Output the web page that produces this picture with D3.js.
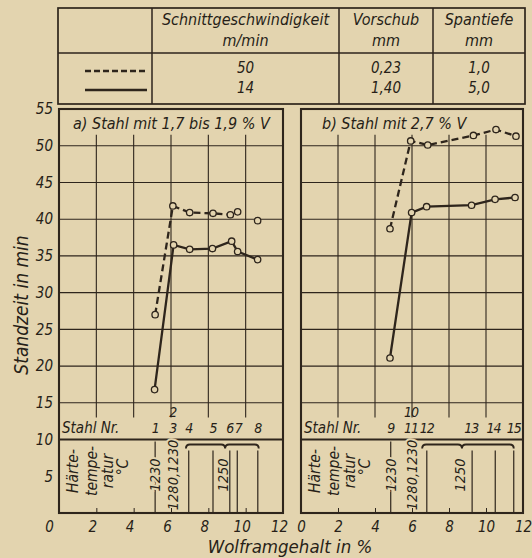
<!DOCTYPE html>
<html>
<head>
<meta charset="utf-8">
<script src="https://cdn.jsdelivr.net/npm/d3@7"></script>
<style>
body { margin: 0; background: #e3d4af; }
svg { display: block; }
text {
    font-family: "DejaVu Sans Condensed", "DejaVu Sans", sans-serif;
    font-stretch: condensed;
    font-style: oblique;
    fill: #271f18;
}
</style>
</head>
<body>
<svg width="532" height="558"></svg>
<script>
// table
const tableHeads = [["Schnittgeschwindigkeit", "m/min"], ["Vorschub", "mm"], ["Spantiefe", "mm"]];
const speedValues = ["50", "14"];
const feedValues = ["0,23", "1,40"];
const depthValues = ["1,0", "5,0"];

// axes
const yTicks = [5, 10, 15, 20, 25, 30, 35, 40, 45, 50, 55];
const xTicks = [0, 2, 4, 6, 8, 10, 12];
const gridY = [15, 20, 25, 30, 35, 40, 45, 50];
const gridX = [2, 4, 6, 8, 10];

// a) Stahl mit 1,7 bis 1,9 % V
const aDashed = [[5.15, 27.0], [6.1, 41.8], [7.0, 40.9], [8.25, 40.8], [9.18, 40.6], [9.57, 41.0]];
const aDashedLoose = [[10.64, 39.8]];
const aSolid = [[5.12, 16.8], [6.14, 36.5], [7.0, 35.9], [8.22, 36.0], [9.25, 37.0], [9.57, 35.6], [10.64, 34.5]];
const aSteels = [["1", 5.15], ["3", 6.1], ["4", 6.95], ["5", 8.25], ["6", 9.15], ["7", 9.6], ["8", 10.65]];
const aSteelsUpper = [["2", 6.1]];
const aTemps = [["1230", 5.15], ["1280,1230", 6.1]];
const aGroup = { from: 6.8, to: 10.7, mid: 8.9, label: "1250", labelAt: 8.8, lines: [6.95, 8.25, 9.15, 9.55, 10.65] };

// b) Stahl mit 2,7 % V
const bDashed = [[4.81, 38.7], [5.93, 50.65], [6.85, 50.1], [9.32, 51.4], [10.54, 52.2], [11.62, 51.3]];
const bDashedLoose = [];
const bSolid = [[4.81, 21.1], [5.98, 40.9], [6.79, 41.7], [9.22, 41.9], [10.49, 42.7], [11.57, 42.95]];
const bSteels = [["9", 4.85], ["11", 5.95], ["12", 6.8], ["13", 9.2], ["14", 10.4], ["15", 11.5]];
const bSteelsUpper = [["10", 5.95]];
const bTemps = [["1230", 4.85], ["1280,1230", 6.0]];
const bGroup = { from: 6.55, to: 11.5, mid: 8.7, label: "1250", labelAt: 8.6, lines: [6.8, 9.25, 10.5, 11.5] };

const ink = "#2e251c";
const bg = "#e3d4af";

const y = d3.scaleLinear([0, 55], [513, 109]);

const panels = [
    { title: "a) Stahl mit 1,7 bis 1,9 % V", titleX: 73, x: d3.scaleLinear([0, 12], [59, 283]),
      dashed: aDashed, loose: aDashedLoose, solid: aSolid, steels: aSteels, upper: aSteelsUpper,
      temps: aTemps, group: aGroup, yLabels: true, labelShift: -4 },
    { title: "b) Stahl mit 2,7 % V", titleX: 322, x: d3.scaleLinear([0, 12], [301, 523]),
      dashed: bDashed, loose: bDashedLoose, solid: bSolid, steels: bSteels, upper: bSteelsUpper,
      temps: bTemps, group: bGroup, yLabels: false, labelShift: 0 }
];

const svg = d3.select("svg");
svg.append("rect").attr("width", 532).attr("height", 558).attr("fill", bg);

// ---- table ----
const colX = [58, 152, 339, 433, 525];
const rowY = [8, 53, 104];
const table = svg.append("g").attr("class", "table");
table.append("rect")
    .attr("x", colX[0]).attr("y", rowY[0])
    .attr("width", colX[4] - colX[0]).attr("height", rowY[2] - rowY[0])
    .attr("fill", "none").attr("stroke", ink).attr("stroke-width", 1.7);
table.selectAll(".col-line")
    .data(colX.slice(1, 4))
    .join("line")
    .attr("class", "col-line")
    .attr("x1", d => d).attr("x2", d => d)
    .attr("y1", rowY[0]).attr("y2", rowY[2])
    .attr("stroke", ink).attr("stroke-width", 1.5);
table.append("line")
    .attr("x1", colX[0]).attr("x2", colX[4])
    .attr("y1", rowY[1]).attr("y2", rowY[1])
    .attr("stroke", ink).attr("stroke-width", 1.5);

tableHeads.forEach((head, i) => {
    let cx = (colX[i + 1] + colX[i + 2]) / 2;
    table.selectAll(".head-" + i)
        .data(head)
        .join("text")
        .attr("class", "head-" + i)
        .attr("x", cx)
        .attr("y", (d, j) => j === 0 ? 25 : 46)
        .attr("text-anchor", "middle")
        .style("font-size", "16px")
        .text(d => d);
});

[speedValues, feedValues, depthValues].forEach((col, i) => {
    let cx = (colX[i + 1] + colX[i + 2]) / 2;
    table.selectAll(".val-" + i)
        .data(col)
        .join("text")
        .attr("class", "val-" + i)
        .attr("x", cx)
        .attr("y", (d, j) => j === 0 ? 73 : 93)
        .attr("text-anchor", "middle")
        .style("font-size", "15px")
        .text(d => d);
});

table.selectAll(".key")
    .data(["6 3", null])
    .join("line")
    .attr("class", "key")
    .attr("x1", 85).attr("x2", 147)
    .attr("y1", (d, i) => i === 0 ? 71 : 90)
    .attr("y2", (d, i) => i === 0 ? 71 : 90)
    .attr("stroke", ink).attr("stroke-width", 2.3)
    .attr("stroke-dasharray", d => d);

// ---- panels ----
const grid = p => selection => {
    selection.selectAll(".h-grid")
        .data(gridY)
        .join("line")
        .attr("class", "h-grid")
        .attr("x1", p.x(0)).attr("x2", p.x(12))
        .attr("y1", y).attr("y2", y)
        .attr("stroke", ink).attr("stroke-width", 1.1);
    selection.selectAll(".v-grid")
        .data(gridX)
        .join("line")
        .attr("class", "v-grid")
        .attr("x1", p.x).attr("x2", p.x)
        .attr("y1", y(51.5)).attr("y2", y(13))
        .attr("stroke", ink).attr("stroke-width", 1.1);
    selection.append("line")
        .attr("x1", p.x(0)).attr("x2", p.x(12))
        .attr("y1", y(10)).attr("y2", y(10))
        .attr("stroke", ink).attr("stroke-width", 1.9);
    selection.append("rect")
        .attr("x", p.x(0)).attr("y", y(55))
        .attr("width", p.x(12) - p.x(0)).attr("height", y(0) - y(55))
        .attr("fill", "none").attr("stroke", ink).attr("stroke-width", 2.1);
}

const axes = p => selection => {
    let bottom = d3.axisBottom(p.x).tickValues(xTicks).tickSize(-5).tickPadding(8).tickFormat(d3.format("d"));
    selection.append("g")
        .attr("class", "x-axis")
        .attr("transform", `translate(0,${y(0)})`)
        .call(bottom)
        .call(g => g.select(".domain").remove())
        .call(g => g.selectAll("line").attr("stroke", ink))
        .call(g => g.selectAll("text")
            .attr("dx", d => (p.labelShift < 0 && d === 0) ? -10 : p.labelShift)
            .style("font-size", "15px"));
    if (p.yLabels) {
        selection.append("g")
            .attr("class", "y-axis")
            .attr("transform", `translate(${p.x(0)},0)`)
            .call(d3.axisLeft(y).tickValues(yTicks).tickSize(0).tickPadding(6))
            .call(g => g.select(".domain").remove())
            .call(g => g.selectAll("text").style("font-size", "15px"));
    }
}

const title = p => selection => {
    selection.append("text")
        .attr("x", p.titleX).attr("y", 129)
        .style("font-size", "16px")
        .text(p.title);
}

const series = p => selection => {
    let line = d3.line().x(d => p.x(d[0])).y(d => y(d[1]));
    selection.selectAll(".series")
        .data([{ pts: p.dashed, dash: "7 4" }, { pts: p.solid, dash: null }])
        .join("path")
        .attr("class", "series")
        .attr("fill", "none")
        .attr("stroke", ink)
        .attr("stroke-width", 2.3)
        .attr("stroke-dasharray", d => d.dash)
        .attr("d", d => line(d.pts));
    selection.selectAll(".pt")
        .data(p.dashed.concat(p.loose, p.solid))
        .join("circle")
        .attr("class", "pt")
        .attr("cx", d => p.x(d[0]))
        .attr("cy", d => y(d[1]))
        .attr("r", 3.2)
        .attr("fill", bg)
        .attr("stroke", ink)
        .attr("stroke-width", 1.3);
}

const steelRow = p => selection => {
    selection.append("text")
        .attr("x", p.x(0) + 3).attr("y", 433)
        .style("font-size", "15px")
        .text("Stahl Nr.");
    selection.selectAll(".steel")
        .data(p.steels)
        .join("text")
        .attr("class", "steel")
        .attr("x", d => p.x(d[1])).attr("y", 433)
        .attr("text-anchor", "middle")
        .style("font-size", "14px")
        .style("letter-spacing", "-1px")
        .text(d => d[0]);
    selection.selectAll(".steel-up")
        .data(p.upper)
        .join("text")
        .attr("class", "steel-up")
        .attr("x", d => p.x(d[1])).attr("y", 417)
        .attr("text-anchor", "middle")
        .style("font-size", "14px")
        .style("letter-spacing", "-1px")
        .text(d => d[0]);
}

const hardening = p => selection => {
    let x0 = p.x(0);
    selection.selectAll(".haerte")
        .data(["Härte-", "tempe-", "ratur", "°C"])
        .join("text")
        .attr("class", "haerte")
        .attr("transform", (d, i) => `translate(${x0 + [14, 33, 49, 64][i]},${i === 3 ? 467 : 471}) rotate(-90)`)
        .attr("text-anchor", "middle")
        .attr("dy", "0.35em")
        .style("font-size", "15.5px")
        .text(d => d);
    // single temperatures
    selection.append("line")
        .attr("x1", p.x(p.temps[0][1])).attr("x2", p.x(p.temps[0][1]))
        .attr("y1", y(10) + 2).attr("y2", y(0) - 1)
        .attr("stroke", ink).attr("stroke-width", 1.2);
    selection.selectAll(".temp")
        .data(p.temps)
        .join("text")
        .attr("class", "temp")
        .attr("transform", d => `translate(${p.x(d[1])},475) rotate(-90)`)
        .attr("text-anchor", "middle")
        .attr("dy", "0.35em")
        .style("font-size", "14.5px")
        .style("paint-order", "stroke")
        .style("stroke", bg)
        .style("stroke-width", "4px")
        .text(d => d[0]);
    // 1250 group with brace
    let g = p.group, yb = y(10) + 5;
    let x1 = p.x(g.from), x2 = p.x(g.to), xm = p.x(g.mid);
    selection.append("path")
        .attr("d", `M${x1},${yb + 4}Q${x1},${yb} ${x1 + 4},${yb}L${xm - 4},${yb}Q${xm},${yb} ${xm},${yb + 4}` +
                   `Q${xm},${yb} ${xm + 4},${yb}L${x2 - 4},${yb}Q${x2},${yb} ${x2},${yb + 4}`)
        .attr("fill", "none").attr("stroke", ink).attr("stroke-width", 1.9);
    selection.selectAll(".grp-line")
        .data(g.lines)
        .join("line")
        .attr("class", "grp-line")
        .attr("x1", p.x).attr("x2", p.x)
        .attr("y1", yb + 6).attr("y2", y(0) - 1)
        .attr("stroke", ink).attr("stroke-width", 1.2);
    selection.append("text")
        .attr("transform", `translate(${p.x(g.labelAt)},475) rotate(-90)`)
        .attr("text-anchor", "middle")
        .attr("dy", "0.35em")
        .style("font-size", "14.5px")
        .text(g.label);
}

svg.selectAll(".panel")
    .data(panels)
    .join("g")
    .attr("class", "panel")
    .each(function (p) {
        d3.select(this)
            .call(grid(p))
            .call(title(p))
            .call(steelRow(p))
            .call(hardening(p))
            .call(series(p))
            .call(axes(p));
    });

svg.append("text")
    .attr("transform", "translate(21,305) rotate(-90)")
    .attr("text-anchor", "middle")
    .attr("dy", "0.35em")
    .style("font-size", "19px")
    .text("Standzeit in min");

svg.append("text")
    .attr("x", 290).attr("y", 553)
    .attr("text-anchor", "middle")
    .style("font-size", "18.5px")
    .text("Wolframgehalt in %");
</script>
</body>
</html>
